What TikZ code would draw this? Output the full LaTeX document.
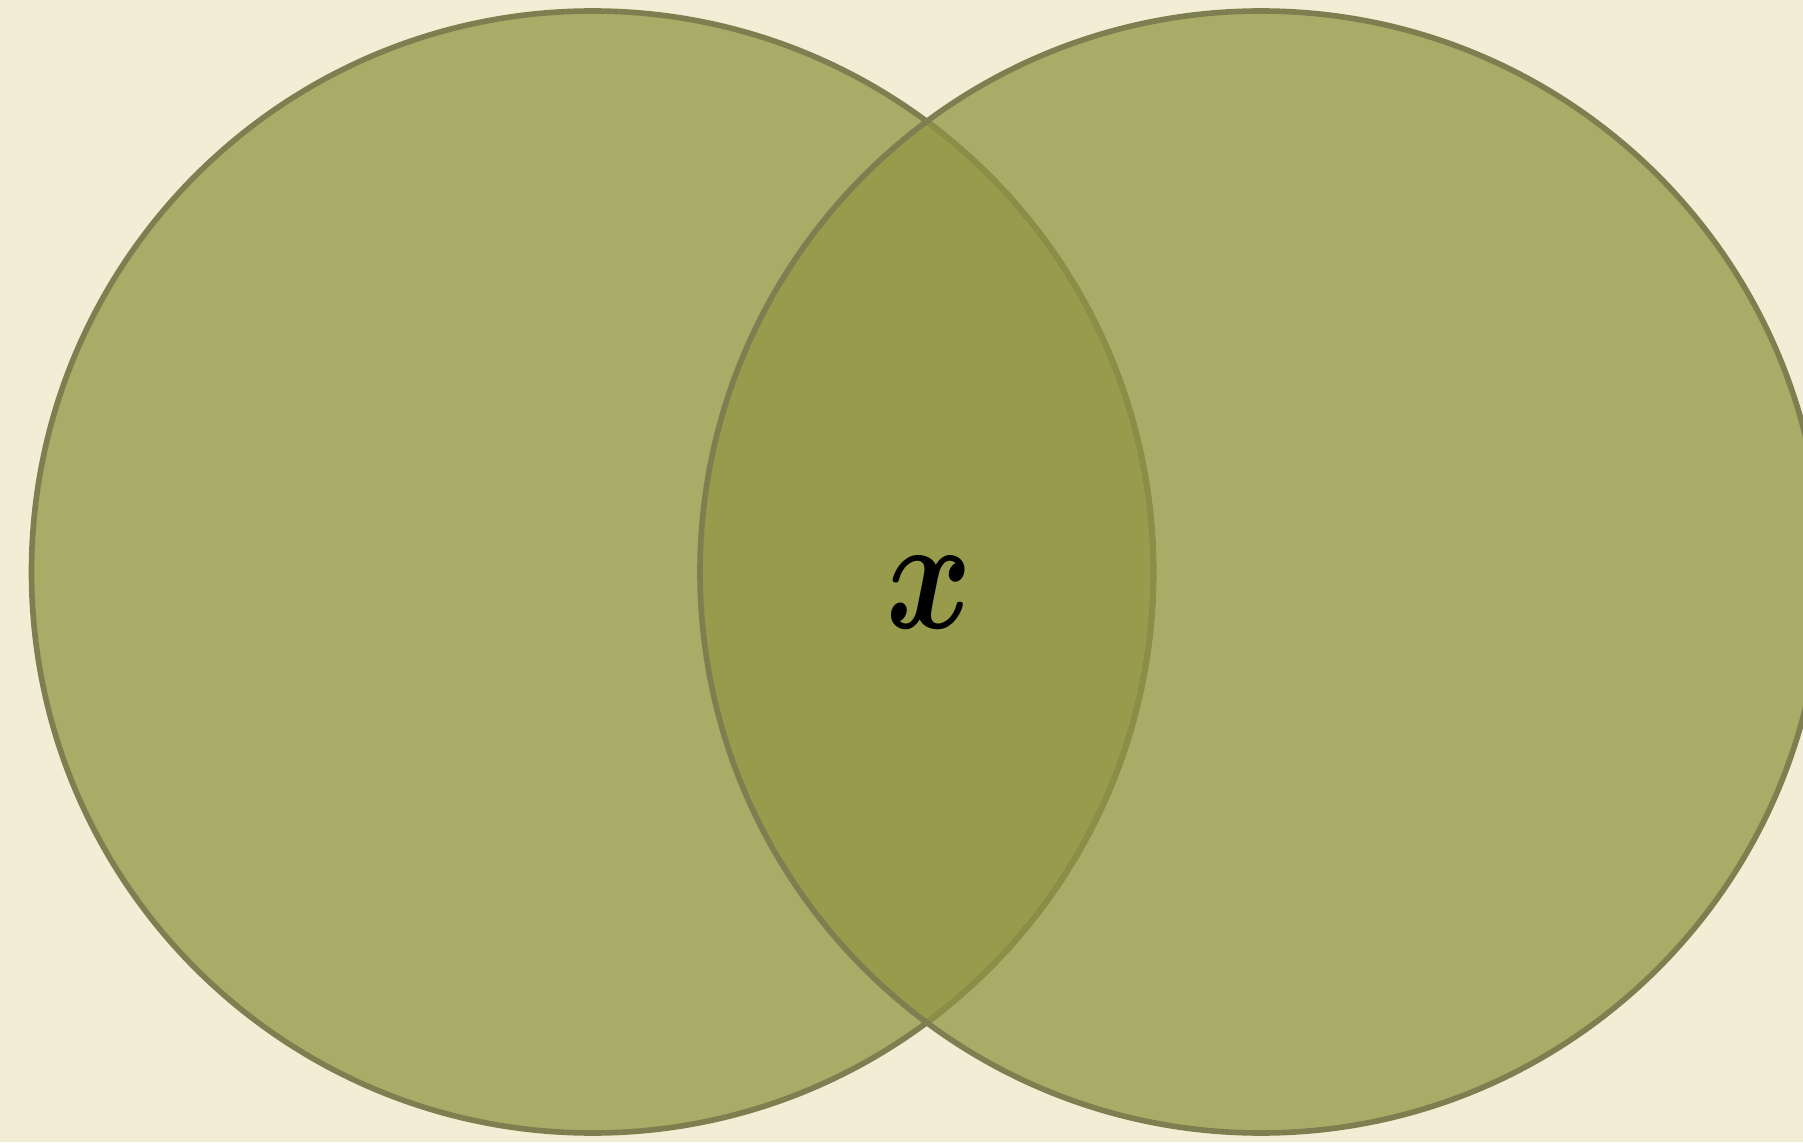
\documentclass[tikz,border=0pt]{standalone}
\usepackage{amsmath}
\usepackage{bm}
\usepackage{graphicx}
\usepackage{fontspec}
\setmainfont{Liberation Serif}
\definecolor{bgcream}{HTML}{F3EDD5}
\definecolor{lightolive}{HTML}{A8AC67}
\definecolor{darkolive}{HTML}{979B4B}
\definecolor{rimolive}{HTML}{7D7F50}
\definecolor{fadedrim}{HTML}{8A8E47}
\tikzset{
  rim/.style={draw=rimolive, line width=1.6pt},
  fadedrimline/.style={draw=fadedrim, line width=1.6pt},
}
\begin{document}
\begin{tikzpicture}
\fill[bgcream] (0,0) rectangle (18.03,11.42);
\useasboundingbox (0,0) rectangle (18.03,11.42);
\coordinate (lc) at (5.925,5.70);
\coordinate (rc) at (12.61,5.70);
\fill[lightolive] (lc) circle (5.61);
\fill[lightolive] (rc) circle (5.61);
\begin{scope}
  \clip (lc) circle (5.61);
  \fill[darkolive] (rc) circle (5.61);
\end{scope}
\draw[rim] (lc) circle (5.61);
\begin{scope}
  \clip (rc) circle (5.61);
  \draw[fadedrimline] (lc) circle (5.61);
\end{scope}
\draw[rim] (rc) circle (5.61);
\node[inner sep=0pt] (x) at (9.29,5.49) {\scalebox{3.7}[4.6]{$\boldsymbol{x}$}};
\end{tikzpicture}
\end{document}
